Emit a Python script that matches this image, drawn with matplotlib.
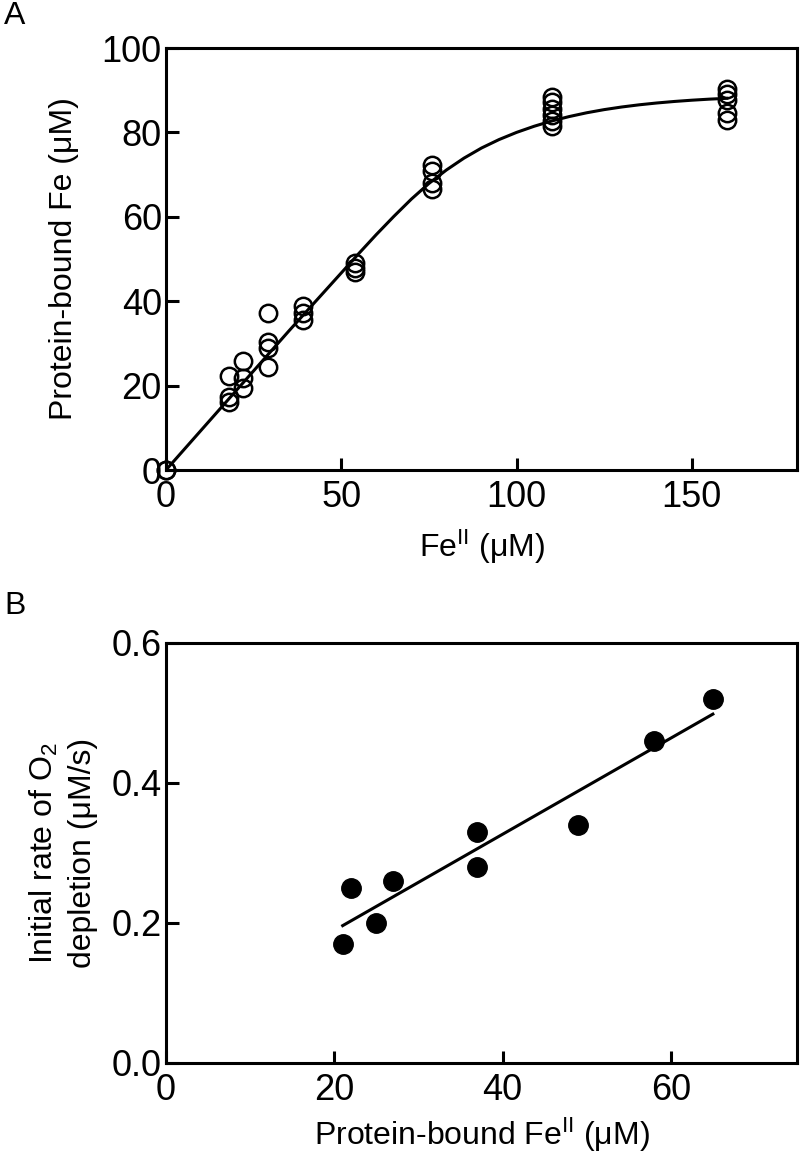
import numpy as np
import matplotlib
matplotlib.use("Agg")
import matplotlib.pyplot as plt

plt.rcParams['font.family'] = ['Liberation Sans', 'DejaVu Sans']
plt.rcParams['mathtext.fontset'] = 'custom'
plt.rcParams['mathtext.rm'] = 'Liberation Sans'
plt.rcParams['mathtext.it'] = 'Liberation Sans:italic'

# Panel A: Fe(II) titration, protein-bound Fe (open circles)
a_fe_added = [0, 0, 18, 18, 18, 22, 22, 22, 29, 29, 29, 29, 39, 39, 39,
              54, 54, 54, 76, 76, 76, 76, 110, 110, 110, 110, 110, 110,
              160, 160, 160, 160, 160]
a_bound = [0, 0, 22.3, 17.3, 16.0, 25.8, 21.8, 19.5, 37.2, 30.3, 29.0, 24.4,
           38.9, 37.2, 35.5, 49.0, 47.9, 47.0, 72.2, 70.8, 68.0, 66.5,
           88.5, 87.1, 85.6, 84.1, 82.8, 81.4, 90.3, 89.1, 87.6, 84.6, 83.0]
# fitted saturation curve
a_fit_x = [0, 5, 10, 15, 20, 25, 30, 35, 40, 45, 50, 55, 60, 65, 70, 75, 80,
           85, 90, 95, 100, 105, 110, 115, 120, 125, 130, 135, 140, 145, 150,
           155, 160]
a_fit_y = [0, 4.7, 9.4, 14.1, 18.8, 23.5, 28.2, 32.9, 37.5, 42.1, 46.7, 51.3,
           55.8, 60.1, 64.2, 67.9, 71.1, 73.9, 76.3, 78.3, 80.0, 81.45, 82.7,
           83.75, 84.65, 85.4, 86.02, 86.54, 86.97, 87.33, 87.63, 87.88, 88.08]

# Panel B: initial O2 depletion rate vs protein-bound Fe(II)
b_bound = [21, 22, 25, 27, 37, 37, 49, 58, 65]
b_rate = [0.17, 0.25, 0.20, 0.26, 0.33, 0.28, 0.34, 0.46, 0.52]

a_xticks = [0, 50, 100, 150]
a_yticks = [0, 20, 40, 60, 80, 100]
b_xticks = [0, 20, 40, 60]
b_yticks = [0.0, 0.2, 0.4, 0.6]

FS = 23
TFS = 26
fig = plt.figure(figsize=(8, 11.58), dpi=100)

def style(ax):
    for s in ax.spines.values():
        s.set_linewidth(2.2)
    ax.tick_params(direction='in', length=9, width=2.2, labelsize=TFS,
                   top=False, right=False)
    ax.tick_params(axis='y', pad=3)
    ax.tick_params(axis='x', pad=7)

axA = fig.add_axes([166/800, 1-470/1158, 631/800, 422/1158])
axA.plot(a_fit_x, a_fit_y, color='black', lw=2.2, zorder=2)
axA.plot(a_fe_added, a_bound, linestyle='none', marker='o', markersize=12.5,
         markerfacecolor='none', markeredgecolor='black', markeredgewidth=1.8,
         clip_on=False, zorder=3)
axA.set_xlim(0, 180)
axA.set_ylim(0, 100)
axA.set_xticks(a_xticks)
axA.set_yticks(a_yticks)
axA.set_xticklabels([str(v) for v in a_xticks])
axA.set_yticklabels([str(v) for v in a_yticks])
style(axA)
axA.set_xlabel(r"Fe$^{\mathrm{II}}$ (μM)", fontsize=FS, labelpad=9)
axA.set_ylabel("Protein-bound Fe (μM)", fontsize=FS, labelpad=16)

axB = fig.add_axes([166/800, 1-1063/1158, 631/800, 420/1158])
coef = np.polyfit(b_bound, b_rate, 1)
xl = np.array([min(b_bound), max(b_bound)])
axB.plot(xl, np.polyval(coef, xl), color='black', lw=2.2, zorder=2)
axB.plot(b_bound, b_rate, linestyle='none', marker='o', markersize=14,
         color='black', clip_on=False, zorder=3)
axB.set_xlim(0, 75)
axB.set_ylim(0, 0.6)
axB.set_xticks(b_xticks)
axB.set_yticks(b_yticks)
axB.set_xticklabels([str(v) for v in b_xticks])
axB.set_yticklabels(["%.1f" % v for v in b_yticks])
style(axB)
axB.set_xlabel(r"Protein-bound Fe$^{\mathrm{II}}$ (μM)", fontsize=FS, labelpad=6)
axB.set_ylabel("Initial rate of O$_2$\ndepletion (μM/s)", fontsize=FS,
               labelpad=10, linespacing=1.35)

fig.text(15/800, 1-16/1158, "A", fontsize=FS, va='center', ha='center')
fig.text(15/800, 1-606/1158, "B", fontsize=FS, va='center', ha='center')

fig.savefig("out.png", dpi=100)
